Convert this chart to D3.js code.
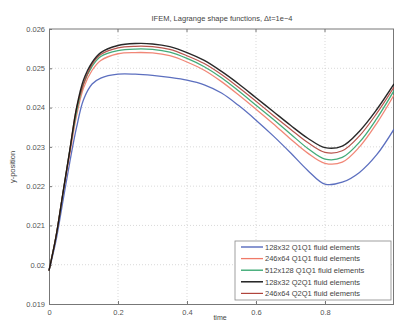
<!DOCTYPE html>
<html><head><meta charset="utf-8">
<script src="https://cdn.jsdelivr.net/npm/d3@7"></script>
<style>body{margin:0;background:#fff}svg{display:block}</style>
</head><body>
<svg id="c" width="394" height="322"></svg>
<script>
const t = [0,0.02,0.04,0.06,0.08,0.1,0.125,0.15,0.2,0.25,0.3,0.35,0.4,0.45,0.5,0.55,0.6,0.65,0.7,0.75,0.8,0.85,0.9,0.95,1.0];
const s128Q1 = [0.01985,0.0206,0.0216,0.0226,0.0235,0.0242,0.0246,0.02475,0.02485,0.02485,0.02482,0.02477,0.0247,0.02458,0.02437,0.02405,0.02368,0.02328,0.02285,0.0224,0.02205,0.0221,0.02235,0.0228,0.02345];
const s246Q1 = [0.01985,0.0207,0.0218,0.0228,0.0238,0.0245,0.02495,0.0252,0.02537,0.0254,0.02539,0.02532,0.02516,0.02495,0.02466,0.02432,0.02396,0.02359,0.0232,0.02284,0.02258,0.02261,0.023,0.0236,0.02432];
const s512Q1 = [0.01985,0.0207,0.0218,0.0229,0.0239,0.0246,0.02505,0.0253,0.02545,0.02549,0.02548,0.02541,0.02525,0.02504,0.02476,0.02442,0.02406,0.0237,0.02333,0.02296,0.02269,0.02273,0.02312,0.02372,0.02443];
const s128Q2 = [0.01985,0.0207,0.0218,0.0229,0.0240,0.0247,0.02515,0.0254,0.02558,0.02563,0.02562,0.02555,0.0254,0.0252,0.02492,0.0246,0.02425,0.0239,0.02355,0.02322,0.02298,0.02302,0.0234,0.02395,0.0246];
const s246Q2 = [0.01985,0.0207,0.0218,0.0229,0.0240,0.0246,0.0251,0.02535,0.02552,0.02556,0.02555,0.02548,0.02532,0.02512,0.02484,0.02451,0.02416,0.0238,0.02345,0.02311,0.02286,0.0229,0.02328,0.02385,0.02452];
const seriesNames = ["128x32 Q1Q1 fluid elements","246x64 Q1Q1 fluid elements","512x128 Q1Q1 fluid elements","128x32 Q2Q1 fluid elements","246x64 Q2Q1 fluid elements"];
const xTicks = [0,0.2,0.4,0.6,0.8];
const yTicks = [0.019,0.02,0.021,0.022,0.023,0.024,0.025,0.026];
const yTickLabels = ["0.019","0.02","0.021","0.022","0.023","0.024","0.025","0.026"];

const allSeries = [s128Q1,s246Q1,s512Q1,s128Q2,s246Q2];
const colors = ["#4a5fb8","#f07a68","#2fa36a","#111111","#b0443c"];
const widths = [1.3,1.3,1.3,1.4,1.2];
const drawOrder = [0,1,2,4,3];

const svg = d3.select("#c");
const L=49, R=394, T=29, B=304;
const x = d3.scaleLinear().domain([0,1]).range([L,R]);
const y = d3.scaleLinear().domain([0.019,0.026]).range([B,T]);
const font = "'Liberation Sans', Arial, sans-serif";

// grid
const g = svg.append("g");
g.selectAll(".gx").data(xTicks.slice(1)).enter().append("line")
 .attr("x1",d=>x(d)).attr("x2",d=>x(d)).attr("y1",T).attr("y2",B)
 .attr("stroke","#c8c8c8").attr("stroke-width",0.7).attr("stroke-dasharray","1,2");
g.selectAll(".gy").data(yTicks.slice(1,-1)).enter().append("line")
 .attr("x1",L).attr("x2",R).attr("y1",d=>y(d)).attr("y2",d=>y(d))
 .attr("stroke","#c8c8c8").attr("stroke-width",0.7).attr("stroke-dasharray","1,2");

// axes
const xAxis = d3.axisBottom(x).tickValues(xTicks).tickSizeInner(-3).tickSizeOuter(0).tickPadding(6).tickFormat(d3.format("~g"));
const yAxis = d3.axisLeft(y).tickValues(yTicks).tickSizeInner(-3).tickSizeOuter(0).tickPadding(4).tickFormat((d,i)=>yTickLabels[i]);
const ax = svg.append("g").attr("transform",`translate(0,${B})`).call(xAxis);
const ay = svg.append("g").attr("transform",`translate(${L},0)`).call(yAxis);
[ax,ay].forEach(a=>{
  a.select(".domain").attr("stroke","#777");
  a.selectAll(".tick line").attr("stroke","#777");
  a.selectAll("text").attr("fill","#555").style("font-family",font).style("font-size","7.5px");
});
// top/right border
svg.append("line").attr("x1",L).attr("x2",R).attr("y1",T).attr("y2",T).attr("stroke","#777");
svg.append("line").attr("x1",R-0.5).attr("x2",R-0.5).attr("y1",T).attr("y2",B).attr("stroke","#777");
svg.selectAll(".tt").data(xTicks.slice(1)).enter().append("line")
 .attr("x1",d=>x(d)).attr("x2",d=>x(d)).attr("y1",T).attr("y2",T+3).attr("stroke","#777");

// lines
const line = d3.line().x((d,i)=>x(t[i])).y(d=>y(d)).curve(d3.curveCatmullRom.alpha(0.5));
drawOrder.forEach(k=>{
  svg.append("path").attr("d",line(allSeries[k])).attr("fill","none")
   .attr("stroke",colors[k]).attr("stroke-width",widths[k]).attr("opacity",0.9);
});

// title and labels
svg.append("text").attr("x",222).attr("y",21).attr("text-anchor","middle")
 .style("font-family",font).style("font-size","7.5px").attr("fill","#444")
 .text("IFEM, Lagrange shape functions, \u0394t=1e\u22124");
svg.append("text").attr("transform","translate(15,167) rotate(-90)").attr("text-anchor","middle")
 .style("font-family",font).style("font-size","7.5px").attr("fill","#444").text("y-position");
svg.append("text").attr("x",220).attr("y",320).attr("text-anchor","middle")
 .style("font-family",font).style("font-size","7px").attr("fill","#444").text("time");

// legend
const lg = svg.append("g");
lg.append("rect").attr("x",235).attr("y",241).attr("width",156).attr("height",59)
 .attr("fill","#fff").attr("stroke","#888").attr("stroke-width",0.8);
seriesNames.forEach((n,i)=>{
  const yy = 247 + i*11.6;
  lg.append("line").attr("x1",241).attr("x2",263).attr("y1",yy).attr("y2",yy)
   .attr("stroke",colors[i]).attr("stroke-width",widths[i]);
  lg.append("text").attr("x",265).attr("y",yy+2.7).style("font-family",font).style("font-size","7.5px")
   .attr("fill","#444").text(n);
});
</script>
</body></html>
